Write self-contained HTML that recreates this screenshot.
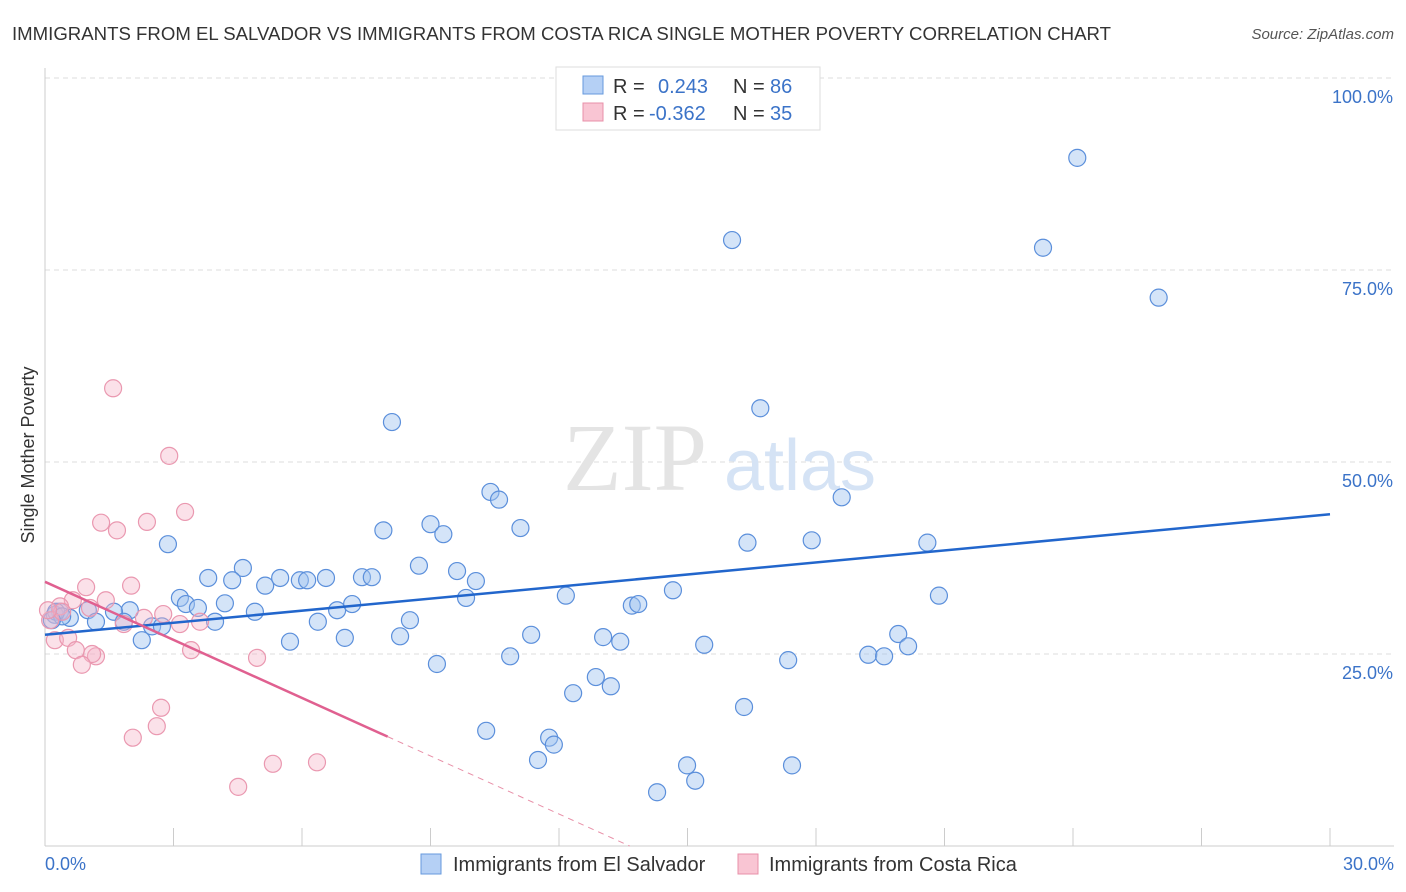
<!DOCTYPE html>
<html><head><meta charset="utf-8"><style>
body{margin:0;background:#fff;font-family:"Liberation Sans",sans-serif;}
svg{display:block}
</style></head><body>
<svg id="chart" width="1406" height="892" xmlns="http://www.w3.org/2000/svg">
<text x="12" y="40" font-size="18" fill="#333" textLength="1099" lengthAdjust="spacingAndGlyphs">IMMIGRANTS FROM EL SALVADOR VS IMMIGRANTS FROM COSTA RICA SINGLE MOTHER POVERTY CORRELATION CHART</text>
<text x="1394" y="39" font-size="15" fill="#555" font-style="italic" text-anchor="end">Source: ZipAtlas.com</text>
<g id="grid"></g>
<text x="635" y="490" font-size="96" fill="#e4e4e4" font-family="Liberation Serif,serif" text-anchor="middle">ZIP</text>
<text x="800" y="490" font-size="72" fill="#d5e3f5" text-anchor="middle">atlas</text>
<line x1="45" y1="68" x2="45" y2="846" stroke="#ccc"/>
<line x1="45" y1="846" x2="1394" y2="846" stroke="#ccc"/>
<g id="ticks"></g>
<g id="pts"></g>
<g id="trend"></g>
<text x="34" y="455" font-size="18" fill="#333" transform="rotate(-90 34 455)" text-anchor="middle">Single Mother Poverty</text>
<text x="45" y="870" font-size="18" fill="#3b73c8">0.0%</text>
<text x="1394" y="870" font-size="18" fill="#3b73c8" text-anchor="end">30.0%</text>
<g>
<rect x="556" y="67" width="264" height="63" fill="#fff" stroke="#ddd"/>
<rect x="583" y="76" width="20" height="18" fill="#b5d0f5" stroke="#6699dd"/>
<rect x="583" y="103" width="20" height="18" fill="#f9c5d3" stroke="#e890a8"/>
<text x="613" y="93" font-size="20" fill="#333">R = <tspan fill="#3b73c8" x="658">0.243</tspan><tspan x="733">N = </tspan><tspan fill="#3b73c8" x="770">86</tspan></text>
<text x="613" y="120" font-size="20" fill="#333">R = <tspan fill="#3b73c8" x="649">-0.362</tspan><tspan x="733">N = </tspan><tspan fill="#3b73c8" x="770">35</tspan></text>
</g>
<g>
<rect x="421" y="854" width="20" height="20" fill="#b5d0f5" stroke="#6699dd"/>
<text x="453" y="871" font-size="20" fill="#333">Immigrants from El Salvador</text>
<rect x="738" y="854" width="20" height="20" fill="#f9c5d3" stroke="#e890a8"/>
<text x="769" y="871" font-size="20" fill="#333">Immigrants from Costa Rica</text>
</g>
</svg>
<script>
const yTicks=[25,50,75,100];
const yTickLabels=["25.0%","50.0%","75.0%","100.0%"];
const xTicks=[0,3,6,9,12,15,18,21,24,27,30];
const blueX=[24.1,16.04,23.3,26.0,16.7,8.1,10.4,10.6,18.6,7.9,9.0,9.3,11.1,16.4,17.9,20.6,2.87,4.62,3.81,4.37,5.14,5.49,5.95,6.12,6.56,7.40,7.63,8.73,9.62,10.06,9.83,12.16,14.66,20.87,3.15,3.29,3.57,4.20,4.90,6.82,7.17,13.7,13.85,1.98,1.61,1.0,0.35,0.23,0.58,1.19,1.84,2.50,2.73,3.97,6.37,8.52,5.72,7.0,8.29,11.35,13.03,13.43,15.39,19.92,20.15,2.26,19.22,19.59,10.86,17.35,9.15,12.86,13.21,12.33,16.32,10.30,11.77,11.88,11.51,14.99,17.44,15.18,14.29,0.26,0.40,0.16];
const blueY=[89.6,78.9,77.9,71.4,57.0,55.2,46.1,45.1,45.4,41.1,41.9,40.6,41.4,39.5,39.8,39.5,39.3,36.2,34.9,34.6,33.9,34.9,34.6,34.6,34.9,35.0,35.0,36.5,35.8,34.5,32.3,32.6,33.3,32.6,32.3,31.5,31.0,31.6,30.5,30.7,31.5,31.3,31.5,30.7,30.5,30.7,30.5,30.1,29.7,29.2,29.2,28.6,28.6,29.2,29.2,29.4,26.6,27.1,27.3,27.5,27.2,26.6,26.2,27.6,26.0,26.8,24.9,24.7,24.7,24.2,23.7,22.0,20.8,19.9,18.1,15.0,14.1,13.2,11.2,10.5,10.5,8.5,7.0,30.5,29.9,29.4];
const pinkX=[1.59,2.90,3.27,1.31,1.68,2.38,0.96,2.01,1.42,0.65,1.05,0.35,0.12,2.76,2.31,3.15,3.62,1.84,0.23,0.54,0.72,1.19,1.10,3.41,4.95,0.86,2.71,2.61,2.05,5.32,6.35,4.51,0.40,0.07];
const pinkY=[59.6,50.8,43.5,42.1,41.1,42.2,33.7,33.9,32.0,32.0,31.0,31.2,29.4,30.2,29.7,28.9,29.2,28.9,26.8,27.1,25.5,24.7,25.0,25.5,24.5,23.6,18.0,15.6,14.1,10.7,10.9,7.7,30.5,30.7];
const blueTrend=[27.5,43.2];
const pinkTrend=[34.4,-2.52];
const pinkSolidEnd=8.0;
const NS="http://www.w3.org/2000/svg";
const X=v=>45+v*1285/30, Y=v=>846-v*7.68;
function mk(tag,attrs,parent){const e=document.createElementNS(NS,tag);for(const k in attrs)e.setAttribute(k,attrs[k]);parent.appendChild(e);return e;}
const grid=document.getElementById('grid'),ticks=document.getElementById('ticks'),pts=document.getElementById('pts'),tr=document.getElementById('trend');
yTicks.forEach((t,i)=>{
 const l=mk('line',{x1:45,x2:1394,y1:Y(t),y2:Y(t),stroke:'#ddd','stroke-dasharray':'5,4'},grid);
 
 
 const tx=mk('text',{x:1393,y:Y(t)+25,'font-size':18,fill:'#3b73c8','text-anchor':'end'},grid);
 tx.textContent=yTickLabels[i];
 
 
});
xTicks.forEach(t=>{
 const l=mk('line',{x1:X(t),x2:X(t),y1:828,y2:846,stroke:'#ccc'},ticks);
 
 
});
blueX.forEach((x,i)=>{
 const c=mk('circle',{cx:X(x),cy:Y(blueY[i]),r:8.5,fill:'rgba(160,195,240,0.45)',stroke:'#5b8fdb','stroke-width':1.2},pts);
 
 
});
pinkX.forEach((x,i)=>{
 const c=mk('circle',{cx:X(x),cy:Y(pinkY[i]),r:8.5,fill:'rgba(245,180,200,0.4)',stroke:'#ea98b0','stroke-width':1.2},pts);
 
 
});
const b=mk('line',{x1:X(0),y1:Y(blueTrend[0]),x2:X(30),y2:Y(blueTrend[1]),stroke:'#2266cc','stroke-width':2.5},tr);


const pe=pinkTrend[0]+pinkTrend[1]*pinkSolidEnd;
const p=mk('line',{x1:X(0),y1:Y(pinkTrend[0]),x2:X(pinkSolidEnd),y2:Y(pe),stroke:'#e06090','stroke-width':2.5},tr);


const zx=-pinkTrend[0]/pinkTrend[1];
const pd=mk('line',{x1:X(pinkSolidEnd),y1:Y(pe),x2:X(zx),y2:Y(0),stroke:'#e890a8','stroke-width':1,'stroke-dasharray':'6,5'},tr);


</script>
</body></html>
